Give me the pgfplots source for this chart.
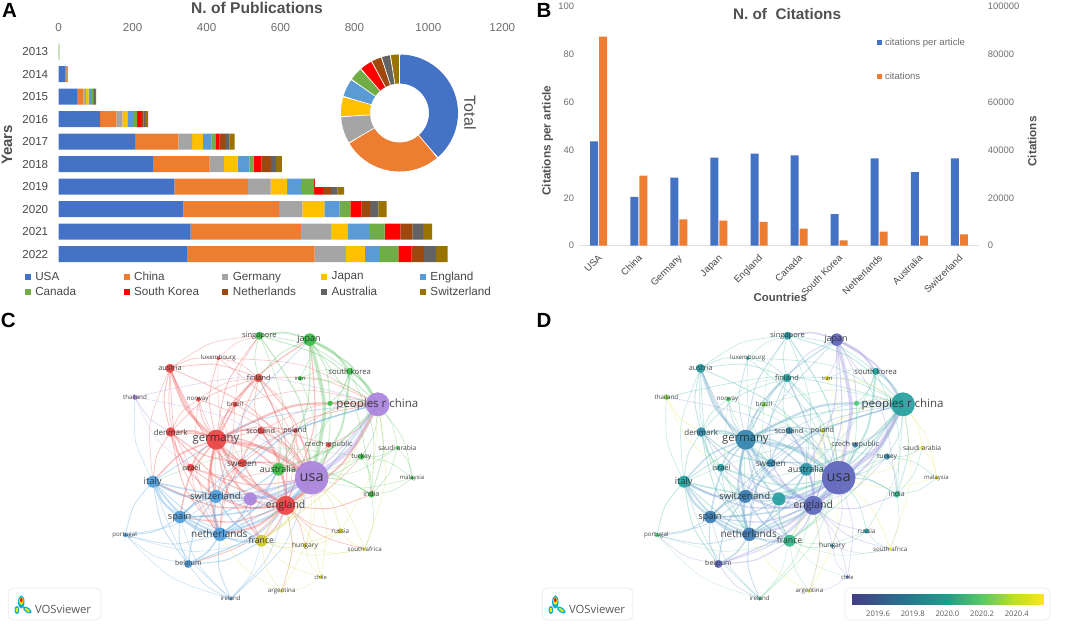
\documentclass[border=0pt]{standalone}
\usepackage{fontspec}
\setmainfont{Liberation Sans}
\newfontfamily\vosfont{Open Sans}
\usepackage{pgfplots}
\usepackage{pgfplotstable}
\usepgfplotslibrary{polar}
\pgfplotsset{compat=1.18}

\definecolor{cUSA}{HTML}{4472C4}
\definecolor{cCHN}{HTML}{ED7D31}
\definecolor{cGER}{HTML}{A5A5A5}
\definecolor{cJAP}{HTML}{FFC000}
\definecolor{cENG}{HTML}{5B9BD5}
\definecolor{cCAN}{HTML}{70AD47}
\definecolor{cKOR}{HTML}{FF0000}
\definecolor{cNET}{HTML}{9E480E}
\definecolor{cAUS}{HTML}{636363}
\definecolor{cSWI}{HTML}{997300}
\definecolor{tickgray}{HTML}{6E6E6E}
\definecolor{titlegray}{HTML}{505050}

% edge colours of the two networks
\definecolor{eR}{HTML}{EC5A58}
\definecolor{eG}{HTML}{55C05F}
\definecolor{eB}{HTML}{5AA5E0}
\definecolor{eY}{HTML}{D8D64A}
\definecolor{eP}{HTML}{B096E0}
\definecolor{dT}{HTML}{4FBBAE}
\definecolor{dL}{HTML}{968DDC}
\definecolor{dB}{HTML}{64A4CC}
\definecolor{dY}{HTML}{EDE64A}
\definecolor{dG}{HTML}{6FD296}

\pgfplotsset{
  colormap={cluster}{rgb255=(235,72,72) rgb255=(62,190,75) rgb255=(80,160,222) rgb255=(205,204,40) rgb255=(172,134,222)},
  colormap={vos}{rgb255(0pt)=(67,62,133); rgb255(25pt)=(42,110,142); rgb255(50pt)=(31,158,137); rgb255(68pt)=(90,200,100); rgb255(85pt)=(190,223,38); rgb255(100pt)=(250,228,30)},
  colormap={vosnode}{rgb255(0pt)=(108,98,192); rgb255(25pt)=(60,130,180); rgb255(50pt)=(40,165,160); rgb255(68pt)=(80,205,120); rgb255(85pt)=(190,225,50); rgb255(100pt)=(250,228,30)},
  edge/.style={smooth,no marks,opacity=0.36,forget plot},
  netbase/.style={
    scale only axis,hide axis,clip=false,width=#1,height=319pt,
    xmin=0,xmax=1590,ymin=0,ymax=957,y dir=reverse},
}

\pgfplotstableread{
year USA China Germany Japan England Canada Korea Netherlands Australia Switzerland
2013 0 0 0 0 0 2 0 0 0 0
2014 17 4 0 0 0 0 0 0 0 3
2015 50 17 7 7 9 3 1 2 2 3
2016 112 44 16 14 15 11 10 7 5 8
2017 207 117 37 29 23 12 10 15 12 14
2018 255 153 39 37 32 11 21 26 14 16
2019 313 199 61 45 40 33 24 22 17 18
2020 337 259 63 60 41 29 30 23 23 22
2021 357 298 83 45 59 40 42 33 29 24
2022 347 345 85 51 41 50 36 33 33 31
}\pubs

\pgfplotstableread{
x citesper cites
0 43.7 87450
1 20.4 29300
2 28.5 11000
3 36.8 10460
4 38.5 10000
5 37.8 7100
6 13.2 2230
7 36.5 5860
8 30.8 4180
9 36.5 4740
}\citesdata

% network nodes: data units are 1/3 px, radius in px, cl = cluster, yr = avg. year
\pgfplotstableread{
name x y r cl yr
usa 935 518 16.5 4 2019.50
chn 1133 298 11.7 4 2019.98
ger 649 404 9.7 0 2019.78
eng 857 601 9.3 0 2019.52
swi 648 574 6.3 2 2019.72
net 660 688 6.5 2 2019.68
spa 540 636 6.0 2 2019.72
ita 459 530 5.7 2 2020.00
unk 751 582 6.3 4 2019.97
aus 835 493 6.0 1 2019.88
jap 929 104 6.0 1 2019.50
fra 784 707 5.7 3 2020.10
den 512 381 4.5 0 2019.82
swe 727 474 4.0 0 2019.80
isr 572 488 3.7 0 2019.95
aut 510 190 4.3 0 2019.95
fin 776 219 4.0 0 2020.00
sin 778 92 3.7 1 2019.90
kor 1049 199 3.3 1 2020.00
sco 783 377 3.3 0 2019.78
pol 886 377 2.0 0 2020.45
cze 986 420 2.3 0 2019.70
tur 1084 455 2.7 1 2019.80
ind 1114 568 3.0 1 2020.10
sau 1192 428 1.7 1 2020.50
mal 1237 519 1.7 1 2020.50
irn 900 220 2.0 1 2020.50
lux 655 160 1.7 0 2020.00
bra 705 298 2.3 0 2020.30
nor 595 283 2.0 0 2020.20
tha 405 277 2.3 4 2020.30
grn 990 295 2.3 1 2020.20
rus 1021 678 2.3 3 2019.95
hun 915 722 1.7 3 2019.85
saf 1094 732 1.4 3 2020.50
chi 962 816 1.4 3 2019.60
arg 845 859 1.4 3 2020.45
bel 565 777 3.7 2 2019.50
por 376 690 2.0 2 2020.20
ire 692 881 1.7 2 2020.10
}\nodetab

% same positions again, for the edges
\newcommand\nd[5]{%
  \expandafter\def\csname nx#1\endcsname{#2}%
  \expandafter\def\csname ny#1\endcsname{#3}%
  \expandafter\def\csname cC#1\endcsname{#4}%
  \expandafter\def\csname cD#1\endcsname{#5}}
\nd{usa}{935}{518}{eP}{dL}\nd{chn}{1133}{298}{eP}{dT}\nd{ger}{649}{404}{eR}{dB}\nd{eng}{857}{601}{eR}{dL}
\nd{swi}{648}{574}{eB}{dB}\nd{net}{660}{688}{eB}{dB}\nd{spa}{540}{636}{eB}{dB}\nd{ita}{459}{530}{eB}{dT}
\nd{unk}{751}{582}{eP}{dT}\nd{aus}{835}{493}{eG}{dT}\nd{jap}{929}{104}{eG}{dL}\nd{fra}{784}{707}{eY}{dG}
\nd{den}{512}{381}{eR}{dT}\nd{swe}{727}{474}{eR}{dB}\nd{isr}{572}{488}{eR}{dT}\nd{aut}{510}{190}{eR}{dT}
\nd{fin}{776}{219}{eR}{dT}\nd{sin}{778}{92}{eG}{dT}\nd{kor}{1049}{199}{eG}{dT}\nd{sco}{783}{377}{eR}{dB}
\nd{pol}{886}{377}{eR}{dY}\nd{cze}{986}{420}{eR}{dL}\nd{tur}{1084}{455}{eG}{dT}\nd{ind}{1114}{568}{eG}{dT}
\nd{sau}{1192}{428}{eG}{dY}\nd{mal}{1237}{519}{eG}{dY}\nd{irn}{900}{220}{eG}{dY}\nd{lux}{655}{160}{eR}{dT}
\nd{bra}{705}{298}{eR}{dG}\nd{nor}{595}{283}{eR}{dG}\nd{tha}{405}{277}{eP}{dY}\nd{grn}{990}{295}{eG}{dG}
\nd{rus}{1021}{678}{eY}{dT}\nd{hun}{915}{722}{eY}{dL}\nd{saf}{1094}{732}{eY}{dY}\nd{chi}{962}{816}{eY}{dL}
\nd{arg}{845}{859}{eY}{dY}\nd{bel}{565}{777}{eB}{dL}\nd{por}{376}{690}{eB}{dG}\nd{ire}{692}{881}{eB}{dG}

% one edge: source, target, width; bowed away from the middle of the network
\newcommand\ed[3]{%
  \pgfmathsetmacro\ax{\csname nx#1\endcsname}%
  \pgfmathsetmacro\ay{\csname ny#1\endcsname}%
  \pgfmathsetmacro\bx{\csname nx#2\endcsname}%
  \pgfmathsetmacro\by{\csname ny#2\endcsname}%
  \pgfmathsetmacro\mx{(\ax+\bx)/2}%
  \pgfmathsetmacro\my{(\ay+\by)/2}%
  \pgfmathsetmacro\ux{-(\by-\ay)*0.10}%
  \pgfmathsetmacro\uy{(\bx-\ax)*0.10}%
  \pgfmathsetmacro\sg{((\mx-800)/100*\ux/100+(\my-490)/100*\uy/100)<0?-1:1}%
  \pgfmathsetmacro\cx{\mx+\sg*\ux}%
  \pgfmathsetmacro\cy{\my+\sg*\uy}%
  \pgfmathsetmacro\lw{#3*1.1+0.25}%
  \edef\tmp{\noexpand\addplot[edge,color=\csname c\panel#1\endcsname,line width=\lw pt]
    coordinates {(\ax,\ay)(\cx,\cy)(\bx,\by)};}\tmp}

\newcommand\netedges{%
\ed{ger}{usa}{2.6}\ed{ger}{eng}{2.6}\ed{ger}{chn}{1.8}\ed{ger}{aut}{2}\ed{ger}{den}{1.5}\ed{ger}{swe}{1.5}%
\ed{ger}{fin}{1}\ed{ger}{swi}{1.8}\ed{ger}{net}{1.8}\ed{ger}{isr}{1}\ed{ger}{sco}{1}\ed{ger}{ita}{1.2}%
\ed{ger}{spa}{1.2}\ed{ger}{jap}{.9}\ed{ger}{aus}{1.2}\ed{ger}{bra}{.6}\ed{ger}{nor}{.6}\ed{ger}{pol}{.8}%
\ed{ger}{lux}{.5}\ed{ger}{fra}{1}\ed{ger}{sin}{.6}\ed{ger}{cze}{.5}\ed{ger}{unk}{1.2}%
\ed{eng}{usa}{3}\ed{eng}{chn}{1.5}\ed{eng}{aus}{1.2}\ed{eng}{net}{1.8}\ed{eng}{swi}{1.5}\ed{eng}{fra}{1}%
\ed{eng}{den}{.8}\ed{eng}{swe}{1}\ed{eng}{sco}{1.2}\ed{eng}{ita}{1}\ed{eng}{spa}{1}\ed{eng}{aut}{.7}%
\ed{eng}{fin}{.7}\ed{eng}{jap}{.8}\ed{eng}{ind}{.6}\ed{eng}{rus}{.4}\ed{eng}{hun}{.4}\ed{eng}{saf}{.4}%
\ed{eng}{bel}{.6}\ed{eng}{unk}{1}\ed{eng}{isr}{.6}\ed{eng}{pol}{.5}\ed{eng}{arg}{.3}\ed{eng}{tur}{.3}%
\ed{den}{swe}{.8}\ed{den}{aut}{.6}\ed{den}{net}{.7}\ed{den}{usa}{1}\ed{den}{isr}{.5}\ed{den}{ita}{.5}%
\ed{den}{fin}{.4}\ed{den}{swi}{.6}\ed{den}{nor}{.4}%
\ed{aut}{swe}{.6}\ed{aut}{isr}{.4}\ed{aut}{usa}{.6}\ed{aut}{fin}{.5}\ed{aut}{lux}{.4}\ed{aut}{net}{.4}%
\ed{aut}{sin}{.3}\ed{aut}{ita}{.3}%
\ed{swe}{usa}{1.2}\ed{swe}{net}{.8}\ed{swe}{swi}{.8}\ed{swe}{fin}{.6}\ed{swe}{aus}{.6}\ed{swe}{chn}{.5}%
\ed{isr}{usa}{.7}\ed{isr}{net}{.4}\ed{isr}{swi}{.4}\ed{isr}{aus}{.3}%
\ed{fin}{usa}{.8}\ed{fin}{chn}{.4}\ed{fin}{sco}{.4}\ed{fin}{bra}{.3}\ed{fin}{pol}{.3}\ed{fin}{aus}{.4}%
\ed{sco}{usa}{.8}\ed{sco}{swe}{.4}\ed{sco}{net}{.4}\ed{sco}{aus}{.4}\ed{sco}{chn}{.3}%
\ed{pol}{usa}{.7}\ed{pol}{chn}{.4}\ed{pol}{aus}{.4}\ed{pol}{fra}{.3}%
\ed{cze}{usa}{.7}\ed{cze}{chn}{.4}\ed{cze}{aus}{.2}%
\ed{lux}{usa}{.3}\ed{lux}{fin}{.3}\ed{lux}{chn}{.3}\ed{lux}{sin}{.2}\ed{lux}{swe}{.2}%
\ed{bra}{usa}{.5}\ed{bra}{chn}{.3}\ed{bra}{fra}{.3}\ed{bra}{sin}{.2}\ed{bra}{swi}{.3}%
\ed{nor}{usa}{.4}\ed{nor}{swe}{.3}\ed{nor}{net}{.3}\ed{nor}{fin}{.2}%
\ed{swi}{usa}{2}\ed{swi}{net}{2.2}\ed{swi}{ita}{1.8}\ed{swi}{spa}{1.8}\ed{swi}{chn}{1.2}\ed{swi}{fra}{1}%
\ed{swi}{unk}{1}\ed{swi}{aus}{1}\ed{swi}{bel}{.8}\ed{swi}{por}{.4}\ed{swi}{jap}{.5}%
\ed{net}{usa}{2}\ed{net}{spa}{2}\ed{net}{ita}{1.5}\ed{net}{bel}{1.2}\ed{net}{fra}{1}\ed{net}{aus}{1}%
\ed{net}{ire}{.6}\ed{net}{por}{.5}\ed{net}{chn}{1}\ed{net}{unk}{1.2}%
\ed{spa}{ita}{2}\ed{spa}{usa}{1.2}\ed{spa}{por}{.6}\ed{spa}{bel}{.6}\ed{spa}{fra}{.6}\ed{spa}{chn}{.6}%
\ed{spa}{unk}{.8}\ed{spa}{ire}{.3}%
\ed{ita}{usa}{1.2}\ed{ita}{fra}{.6}\ed{ita}{por}{.5}\ed{ita}{bel}{.6}\ed{ita}{chn}{.6}\ed{ita}{tha}{.3}\ed{ita}{ire}{.3}%
\ed{bel}{usa}{1}\ed{bel}{fra}{.8}\ed{bel}{ire}{.4}\ed{bel}{por}{.3}%
\ed{por}{ire}{.2}\ed{por}{fra}{.2}\ed{ire}{usa}{.4}\ed{ire}{eng}{.4}\ed{ire}{fra}{.2}%
\ed{usa}{chn}{3.8}\ed{usa}{unk}{2}\ed{chn}{unk}{1}\ed{usa}{tha}{.3}\ed{chn}{tha}{.4}\ed{tha}{den}{.5}\ed{tha}{isr}{.2}%
\ed{unk}{aus}{.8}\ed{unk}{fra}{.7}%
\ed{jap}{usa}{3}\ed{jap}{chn}{1.5}\ed{jap}{sin}{1.2}\ed{jap}{kor}{1.6}\ed{jap}{aus}{.8}\ed{jap}{irn}{.3}%
\ed{jap}{fin}{.5}\ed{jap}{ind}{.4}\ed{jap}{grn}{.6}%
\ed{sin}{usa}{.8}\ed{sin}{chn}{.6}\ed{sin}{kor}{.4}\ed{sin}{aus}{.3}\ed{sin}{fin}{.4}%
\ed{kor}{usa}{1.5}\ed{kor}{chn}{1.4}\ed{kor}{grn}{.4}\ed{kor}{irn}{.2}\ed{kor}{aus}{.3}\ed{kor}{ind}{.3}%
\ed{aus}{usa}{1.5}\ed{aus}{chn}{1.2}\ed{aus}{ind}{.4}\ed{aus}{tur}{.2}%
\ed{ind}{usa}{.7}\ed{ind}{chn}{.5}\ed{ind}{mal}{.3}\ed{ind}{tur}{.3}\ed{ind}{sau}{.3}\ed{ind}{saf}{.2}%
\ed{tur}{usa}{.5}\ed{tur}{chn}{.4}\ed{tur}{sau}{.3}\ed{tur}{mal}{.3}\ed{tur}{ita}{.2}%
\ed{sau}{chn}{.3}\ed{sau}{mal}{.3}\ed{sau}{usa}{.2}\ed{mal}{chn}{.3}\ed{mal}{usa}{.2}%
\ed{irn}{chn}{.3}\ed{irn}{usa}{.3}\ed{grn}{usa}{.5}\ed{grn}{chn}{.4}%
\ed{fra}{usa}{1.2}\ed{fra}{chn}{.6}\ed{fra}{aus}{.6}\ed{fra}{rus}{.4}\ed{fra}{hun}{.4}\ed{fra}{saf}{.2}%
\ed{fra}{arg}{.3}\ed{fra}{chi}{.2}%
\ed{rus}{usa}{.4}\ed{rus}{hun}{.3}\ed{rus}{saf}{.2}\ed{rus}{chn}{.2}%
\ed{hun}{usa}{.3}\ed{hun}{saf}{.2}\ed{hun}{chi}{.2}\ed{saf}{usa}{.3}\ed{saf}{chn}{.2}%
\ed{chi}{usa}{.3}\ed{chi}{arg}{.2}\ed{chi}{eng}{.3}\ed{arg}{usa}{.2}\ed{arg}{eng}{.3}\ed{arg}{net}{.2}%
}

\newcommand\netnodes[1]{%
  \addplot[scatter,only marks,mark=*,fill opacity=0.95,draw opacity=0.95,
    point meta=\thisrow{#1},
    visualization depends on={\thisrow{r}\as\rr},
    scatter/use mapped color={draw=mapped color,fill=mapped color},
    scatter/@pre marker code/.append style={/tikz/mark size=\rr},
  ] table[x=x,y=y] {\nodetab};}

\newcommand\lab[4]{\node[font=\vosfont\fontsize{#3}{#3}\selectfont,text=black!85,text opacity=0.85,inner sep=0pt] at (axis cs:#1,#2) {#4};}
\newcommand\netlabels{%
\lab{935}{518}{14.5}{usa}\lab{1132}{298}{11.5}{peoples r china}\lab{648}{404}{11.3}{germany}
\lab{857}{601}{10.5}{england}\lab{646}{574}{9.5}{switzerland}\lab{658}{687}{10}{netherlands}
\lab{539}{636}{9.3}{spain}\lab{458}{530}{9.3}{italy}\lab{834}{493}{9}{australia}
\lab{927}{104}{9}{japan}\lab{784}{707}{8.7}{france}\lab{512}{381}{8}{denmark}
\lab{726}{474}{8.3}{sweden}\lab{574}{488}{7.3}{israel}\lab{510}{190}{7.3}{austria}
\lab{776}{219}{7.3}{finland}\lab{778}{92}{7.5}{singapore}\lab{1049}{199}{7.7}{south korea}
\lab{782}{377}{7.3}{scotland}\lab{885}{377}{7.2}{poland}\lab{986}{420}{7.2}{czech republic}
\lab{1084}{455}{6.8}{turkey}\lab{1114}{568}{7}{india}\lab{1192}{428}{6.7}{saudi arabia}
\lab{1236}{519}{6}{malaysia}\lab{900}{220}{5.8}{iran}\lab{655}{160}{6.2}{luxembourg}
\lab{705}{298}{6.5}{brazil}\lab{593}{283}{6.2}{norway}\lab{405}{277}{6.2}{thailand}
\lab{1021}{678}{6.4}{russia}\lab{915}{722}{6.7}{hungary}\lab{1094}{732}{6.2}{south africa}
\lab{962}{816}{5.8}{chile}\lab{845}{859}{6.2}{argentina}\lab{565}{777}{7}{belgium}
\lab{374}{690}{6.2}{portugal}\lab{692}{881}{6.2}{ireland}}

% logo box
\newcommand\vosbox[3]{%
  \draw[black!8,fill=white,rounded corners=5pt,line width=.8pt] (#1,4) rectangle (#2,36);
  \begin{scope}[shift={(#1,2)}]
  \fill[cyan!80!green] (8.6,12) ellipse (2.4 and 4);
  \fill[cyan!80!green] (13,20) ellipse (3.2 and 6.6);
  \fill[cyan!80!green,rotate around={-35:(19,12)}] (19,12) ellipse (5 and 2.5);
  \fill[yellow!90!green] (8.6,12) ellipse (1.3 and 2.4);
  \fill[yellow!90!green,rotate around={-35:(19,12)}] (19,12) ellipse (3 and 1.2);
  \fill[yellow!90!green] (13,21) ellipse (2.2 and 4);
  \fill[red] (13,22) ellipse (1.2 and 2.1);
  \node[anchor=west,inner sep=0pt,text=black!65,font=\vosfont\fontsize{#3}{#3}\selectfont] at (26.5,13) {VOSviewer};
  \end{scope}}

\begin{document}
\begin{tikzpicture}[x=1pt,y=1pt]
\path[use as bounding box] (0,0) rectangle (1072,624);

% ---------- A
\begin{axis}[
  at={(58.7pt,358.5pt)},anchor=south west,scale only axis,
  width=443.6pt,height=225pt,
  xbar stacked,bar width=16pt,
  xmin=0,xmax=1200,ymin=2012.5,ymax=2022.5,y dir=reverse,
  xtick={0,200,...,1200},ytick={2013,...,2022},
  xticklabel pos=upper,
  axis line style={draw=none},tick style={draw=none},
  /pgf/number format/assume math mode=true,
  /pgf/number format/1000 sep={},
  every tick label/.append style={font=\fontsize{11.6}{12}\selectfont},
  xticklabel style={text=tickgray,yshift=5pt},
  yticklabel style={text=black!72,xshift=-7pt},
  title={\textbf{N. of Publications}},
  title style={at={(axis description cs:0.447,1.144)},anchor=center,yshift=-6pt,text=titlegray,font=\fontsize{15.6}{16}\selectfont},
  ylabel={\textbf{Years}},
  ylabel style={at={(axis description cs:-0.1165,0.536)},anchor=center,text=titlegray,font=\fontsize{15}{15}\selectfont},
  legend columns=5,
  legend cell align=left,
  legend style={at={(axis description cs:-0.0765,-0.0187)},anchor=north west,draw=none,fill=none,
    font=\fontsize{11.7}{12}\selectfont,text=black!72,row sep=1.2pt,inner sep=0pt,outer sep=0pt,
    /tikz/every odd column/.append style={column sep=2.5pt}},
  legend image code/.code={\fill[#1,draw=none] (0pt,-3pt) rectangle (6pt,3pt);},
]
\addplot[fill=cUSA,draw=none] table[x=USA,y=year] {\pubs};
\addplot[fill=cCHN,draw=none] table[x=China,y=year] {\pubs};
\addplot[fill=cGER,draw=none] table[x=Germany,y=year] {\pubs};
\addplot[fill=cJAP,draw=none] table[x=Japan,y=year] {\pubs};
\addplot[fill=cENG,draw=none] table[x=England,y=year] {\pubs};
\addplot[fill=cCAN,draw=none] table[x=Canada,y=year] {\pubs};
\addplot[fill=cKOR,draw=none] table[x=Korea,y=year] {\pubs};
\addplot[fill=cNET,draw=none] table[x=Netherlands,y=year] {\pubs};
\addplot[fill=cAUS,draw=none] table[x=Australia,y=year] {\pubs};
\addplot[fill=cSWI,draw=none] table[x=Switzerland,y=year] {\pubs};
\legend{\makebox[86.3pt][l]{USA},\makebox[86.3pt][l]{China},\makebox[86.3pt][l]{Germany},\makebox[86.3pt][l]{Japan},\makebox[86.3pt][l]{England},\makebox[86.3pt][l]{Canada},\makebox[86.3pt][l]{South Korea},\makebox[86.3pt][l]{Netherlands},\makebox[86.3pt][l]{Australia},\makebox[86.3pt][l]{Switzerland}}
\end{axis}

% the thin tail of the 2019 bar
\begin{axis}[
  at={(58.7pt,358.5pt)},anchor=south west,scale only axis,hide axis,
  width=443.6pt,height=225pt,
  xmin=0,xmax=1200,ymin=2012.5,ymax=2022.5,y dir=reverse]
\addplot[white,line width=9.4pt,no marks] coordinates {(692,2018.82)(782,2018.82)};
\end{axis}

% donut of the totals, angles in degrees, ring centred on r=44
\begin{polaraxis}[
  at={(399.5pt,511pt)},anchor=center,scale only axis,hide axis,clip=false,
  width=120pt,height=120pt,ymin=0,ymax=60,xmin=0,xmax=360]
\addplot[cUSA,line width=29pt,smooth,no marks] coordinates {(90,44)(80,44)(70,44)(60,44)(50,44)(40,44)(30,44)(20,44)(10,44)(0,44)(-10,44)(-20,44)(-30,44)(-40,44)(-49.4,44)};
\addplot[cCHN,line width=29pt,smooth,no marks] coordinates {(-49.4,44)(-60,44)(-70,44)(-80,44)(-90,44)(-100,44)(-110,44)(-120,44)(-130,44)(-140,44)(-149.3,44)};
\addplot[cGER,line width=29pt,smooth,no marks] coordinates {(-149.3,44)(-158,44)(-167,44)(-176.4,44)};
\addplot[cJAP,line width=29pt,smooth,no marks] coordinates {(-176.4,44)(-186,44)(-196.4,44)};
\addplot[cENG,line width=29pt,smooth,no marks] coordinates {(-196.4,44)(-205,44)(-214.9,44)};
\addplot[cCAN,line width=29pt,smooth,no marks] coordinates {(-214.9,44)(-222,44)(-228.7,44)};
\addplot[cKOR,line width=29pt,smooth,no marks] coordinates {(-228.7,44)(-235,44)(-241.6,44)};
\addplot[cNET,line width=29pt,smooth,no marks] coordinates {(-241.6,44)(-247,44)(-252,44)};
\addplot[cAUS,line width=29pt,smooth,no marks] coordinates {(-252,44)(-256.5,44)(-261,44)};
\addplot[cSWI,line width=29pt,smooth,no marks] coordinates {(-261,44)(-265.5,44)(-270,44)};
\addplot[white,line width=.7pt,no marks] coordinates {(90,29)(90,59)};
\addplot[white,line width=.7pt,no marks] coordinates {(-49.4,29)(-49.4,59)};
\addplot[white,line width=.7pt,no marks] coordinates {(-149.3,29)(-149.3,59)};
\addplot[white,line width=.7pt,no marks] coordinates {(-176.4,29)(-176.4,59)};
\addplot[white,line width=.7pt,no marks] coordinates {(-196.4,29)(-196.4,59)};
\addplot[white,line width=.7pt,no marks] coordinates {(-214.9,29)(-214.9,59)};
\addplot[white,line width=.7pt,no marks] coordinates {(-228.7,29)(-228.7,59)};
\addplot[white,line width=.7pt,no marks] coordinates {(-241.6,29)(-241.6,59)};
\addplot[white,line width=.7pt,no marks] coordinates {(-252,29)(-252,59)};
\addplot[white,line width=.7pt,no marks] coordinates {(-261,29)(-261,59)};
\end{polaraxis}
\node[rotate=-90,text=titlegray,font=\fontsize{16}{16}\selectfont] at (470,511.3) {Total};

% ---------- B
\begin{axis}[
  at={(578.7pt,378.3pt)},anchor=south west,scale only axis,
  width=400.7pt,height=239pt,
  ybar,bar width=8pt,bar shift=-4.5pt,
  xmin=-0.5,xmax=9.5,ymin=0,ymax=100,
  axis x line*=bottom,axis y line*=left,
  y axis line style={draw=none},x axis line style={draw=black!12},
  tick style={draw=none},
  xtick={0,...,9},
  xticklabels={USA,China,Germany,Japan,England,Canada,South Korea,Netherlands,Australia,Switzerland},
  xticklabel style={rotate=45,anchor=north east,text=black!72,font=\fontsize{9.6}{10}\selectfont,yshift=1.5pt},
  ytick={0,20,...,100},
  yticklabel style={text=tickgray,font=\fontsize{9.4}{10}\selectfont,xshift=-1pt},
  /pgf/number format/assume math mode=true,
  title={\textbf{N. of\ \ Citations}},
  title style={at={(axis description cs:0.52,0.968)},anchor=center,yshift=-6pt,text=titlegray,font=\fontsize{15.3}{16}\selectfont},
  xlabel={\textbf{Countries}},
  xlabel style={at={(axis description cs:0.503,-0.2155)},anchor=center,text=titlegray,font=\fontsize{11.4}{12}\selectfont},
  ylabel={\textbf{Citations per article}},
  ylabel style={at={(axis description cs:-0.078,0.44)},anchor=center,text=titlegray,font=\fontsize{11.8}{12}\selectfont},
  legend cell align=left,
  legend style={at={(axis description cs:0.744,0.877)},anchor=north west,draw=none,fill=none,
    font=\fontsize{9.6}{10}\selectfont,text=tickgray,row sep=22pt,inner sep=0pt,
    /tikz/every odd column/.append style={column sep=1pt}},
  legend image code/.code={\fill[#1,draw=none] (0pt,-2.5pt) rectangle (5pt,2.5pt);},
]
\addplot[fill=cUSA,draw=none] table[x=x,y=citesper] {\citesdata};
\addlegendentry{citations per article}
\addlegendimage{fill=cCHN,draw=none}
\addlegendentry{citations}
\end{axis}
\begin{axis}[
  at={(578.7pt,378.3pt)},anchor=south west,scale only axis,
  width=400.7pt,height=239pt,
  ybar,bar width=8pt,bar shift=4.5pt,
  xmin=-0.5,xmax=9.5,ymin=0,ymax=100000,
  axis x line=none,axis y line*=right,
  y axis line style={draw=none},tick style={draw=none},
  ytick={0,20000,...,100000},scaled y ticks=false,
  /pgf/number format/assume math mode=true,
  /pgf/number format/fixed,
  /pgf/number format/1000 sep={},
  yticklabel style={text=tickgray,font=\fontsize{9.4}{10}\selectfont,xshift=5pt},
  ylabel={\textbf{Citations}},
  ylabel style={at={(axis description cs:1.1315,0.436)},anchor=center,text=titlegray,font=\fontsize{11.7}{12}\selectfont},
]
\addplot[fill=cCHN,draw=none] table[x=x,y=cites] {\citesdata};
\end{axis}

% ---------- C
\vosbox{8.3}{101}{11.3}
\def\panel{C}
\begin{axis}[netbase=530pt,at={(0pt,0pt)},anchor=south west,colormap name=cluster,point meta min=0,point meta max=4]
\netedges
\netnodes{cl}
\end{axis}
% labels in an axis of their own: markers of the axis above would cover them
\begin{axis}[netbase=530pt,at={(0pt,0pt)},anchor=south west]
\netlabels
\end{axis}

% ---------- D
\draw[black!8,rounded corners=5pt,line width=.8pt] (845,4) rectangle (1050,36);
\vosbox{542.3}{633}{11.3}
\def\panel{D}
\begin{axis}[netbase=516.5pt,at={(534.9pt,0pt)},anchor=south west,colormap name=vosnode,point meta min=2019.448,point meta max=2020.553]
\netedges
\netnodes{yr}
\end{axis}
\begin{axis}[netbase=516.5pt,at={(534.9pt,0pt)},anchor=south west]
\netlabels
\end{axis}

% colour scale of D
\begin{axis}[
  at={(851.7pt,19.7pt)},anchor=south west,scale only axis,
  width=191.6pt,height=10.3pt,
  colormap name=vos,point meta min=2019.448,point meta max=2020.553,
  xmin=2019.448,xmax=2020.553,ymin=0,ymax=1,
  xtick={2019.6,2019.8,2020.0,2020.2,2020.4},ytick=\empty,
  xtick pos=lower,xtick align=inside,major tick length=3pt,
  tick style={black!55},axis line style={black!45},
  /pgf/number format/assume math mode=true,
  /pgf/number format/fixed,/pgf/number format/fixed zerofill,
  /pgf/number format/precision=1,/pgf/number format/1000 sep={},
  xticklabel style={font=\vosfont\fontsize{7.6}{8}\selectfont,text=black!65,yshift=-3.5pt},
]
\addplot[surf,shader=interp,point meta=x,mesh/rows=2,mesh/cols=2] coordinates {
  (2019.448,0)(2020.553,0)

  (2019.448,1)(2020.553,1)
};
\end{axis}

% panel letters
\node[font=\fontsize{20.5}{20}\selectfont\bfseries] at (9.5,614) {A};
\node[font=\fontsize{20.5}{20}\selectfont\bfseries] at (544,614) {B};
\node[font=\fontsize{20.5}{20}\selectfont\bfseries] at (8.3,303.5) {C};
\node[font=\fontsize{20.5}{20}\selectfont\bfseries] at (544,303.5) {D};
\end{tikzpicture}
\end{document}
